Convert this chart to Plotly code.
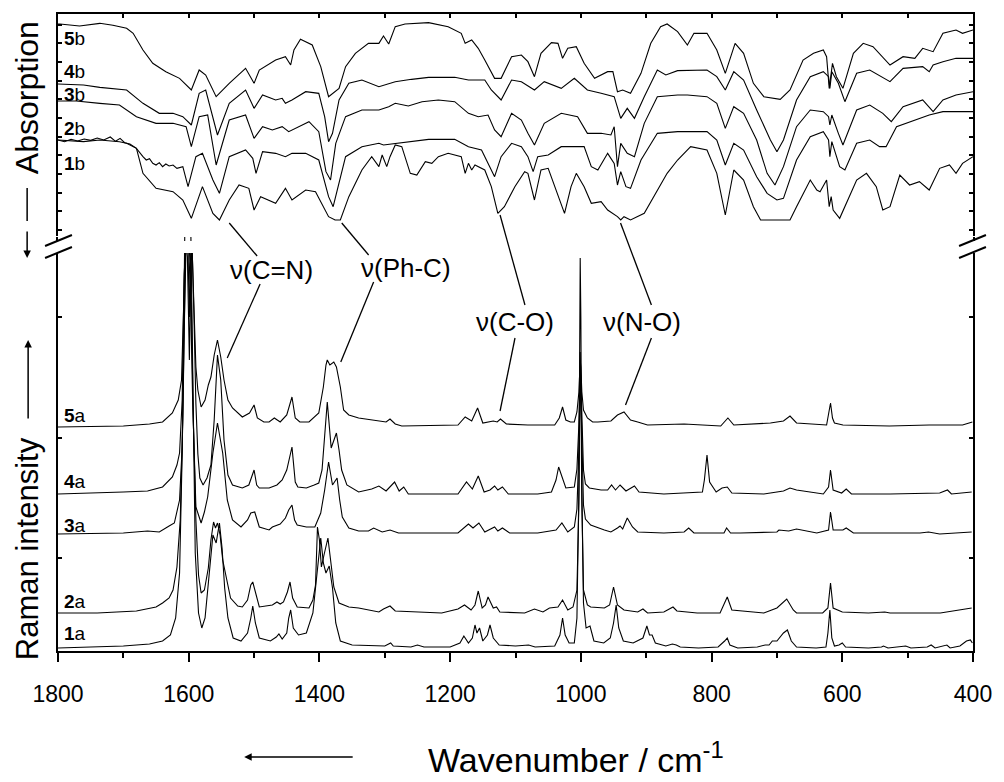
import plotly.graph_objects as go

# ---------------- data ----------------
# Raman spectra: (wavenumber / cm-1, intensity above own baseline, a.u.)
raman_5a = [(1800,0),(1700,1),(1660,3),(1640,5),(1625,14),(1616,27),(1611,47),(1608,120),(1605,184),(1602,170),(1599,67),(1597,150),(1595,184),(1592,120),(1589,60),(1586,37),(1581,20),(1575,27),(1570,42),(1566,50),(1561,72),(1556,87),(1551,70),(1546,47),(1540,27),(1533,19),(1518,10),(1507,14),(1500,22),(1495,9),(1485,5),(1477,5),(1469,9),(1460,5),(1450,12),(1442,30),(1437,9),(1430,5),(1416,5),(1401,14),(1394,40),(1390,62),(1388,67),(1384,62),(1378,65),(1374,60),(1368,40),(1363,17),(1355,12),(1340,9),(1309,6),(1298,5),(1292,8),(1284,3),(1274,1),(1188,2),(1177,10),(1167,6),(1158,19),(1150,4),(1134,6),(1128,5),(1123,8),(1114,3),(1081,2),(1040,2),(1033,9),(1028,20),(1023,7),(1016,5),(1010,5),(1006,15),(1003,35),(1001.5,60),(1001,67),(1000,60),(998.5,35),(996,17),(990,9),(982,5),(974,5),(954,6),(944,12),(934,15),(924,7),(913,5),(898,2),(842,3),(786,1),(775,9),(766,2),(710,4),(690,6),(680,11),(670,4),(624,2),(620,15),(618,24),(615,9),(612,4),(599,2),(528,1),(467,2),(416,2),(401,5)]
raman_4a = [(1800,0),(1739,1),(1700,2),(1663,3),(1640,7),(1625,17),(1618,29),(1614,41),(1610,94),(1607,220),(1604,251),(1601,240),(1599,177),(1597,240),(1595,251),(1592,180),(1589,90),(1586,40),(1583,16),(1578,9),(1572,16),(1566,29),(1561,74),(1556,139),(1551,114),(1546,54),(1540,19),(1533,9),(1518,6),(1508,9),(1503,19),(1500,24),(1496,9),(1492,6),(1477,6),(1465,9),(1457,14),(1450,24),(1442,47),(1437,12),(1433,7),(1420,6),(1408,9),(1401,11),(1396,24),(1392,54),(1388,92),(1382,46),(1374,61),(1370,44),(1366,24),(1358,9),(1340,2),(1320,5),(1309,8),(1298,3),(1285,12),(1278,3),(1271,7),(1264,0),(1188,0),(1175,12),(1166,5),(1157,18),(1148,2),(1139,4),(1132,8),(1127,4),(1120,7),(1111,0),(1066,0),(1045,2),(1038,14),(1034,27),(1029,17),(1023,6),(1010,7),(1006,25),(1003,70),(1001.5,115),(1001,124),(1000,115),(998.5,70),(996,24),(993,10),(987,6),(969,4),(959,4),(953,9),(947,4),(940,9),(931,3),(918,8),(911,2),(873,0),(814,2),(811,14),(807,39),(803,12),(793,2),(784,6),(776,7),(769,1),(720,0),(690,3),(680,6),(670,4),(629,0),(621,7),(618,24),(614,4),(601,1),(594,5),(586,0),(527,0),(451,1),(439,4),(433,0),(402,2)]
raman_3a = [(1800,0),(1700,1),(1663,3),(1645,2),(1630,8),(1622,11),(1614,34),(1610,87),(1607,200),(1604,291),(1600,289),(1597,230),(1594,134),(1591,60),(1589,27),(1581,11),(1576,22),(1571,37),(1567,59),(1563,81),(1556,111),(1548,81),(1541,34),(1533,14),(1520,7),(1510,14),(1505,21),(1499,22),(1492,7),(1477,4),(1472,7),(1460,10),(1452,16),(1447,24),(1442,29),(1438,14),(1434,9),(1420,7),(1407,7),(1398,21),(1392,44),(1386,72),(1380,49),(1373,56),(1369,34),(1365,17),(1355,6),(1340,3),(1325,3),(1317,6),(1304,2),(1292,4),(1279,1),(1188,1),(1172,10),(1165,6),(1156,11),(1147,2),(1132,7),(1127,3),(1120,6),(1109,1),(1066,1),(1038,4),(1029,11),(1020,2),(1010,7),(1006,25),(1003,85),(1001.5,140),(1001,154),(1000,140),(998.5,85),(996,29),(993,15),(985,9),(964,4),(954,2),(944,6),(940,8),(936,5),(929,16),(921,7),(913,2),(873,1),(842,2),(835,6),(827,1),(781,1),(777,6),(771,1),(756,1),(700,2),(697,4),(682,3),(670,5),(639,1),(621,4),(618,22),(614,4),(599,4),(594,6),(583,1),(481,1),(468,2),(451,0),(402,2)]
raman_2a = [(1800,0),(1740,0),(1680,2),(1650,6),(1640,10),(1630,15),(1624,23),(1618,46),(1613,93),(1609,193),(1605,365),(1601,370),(1597,350),(1593,193),(1589,93),(1585,38),(1581,20),(1576,23),(1570,45),(1566,73),(1562,91),(1559,85),(1556,90),(1552,78),(1548,53),(1543,38),(1536,15),(1525,7),(1518,6),(1510,13),(1505,28),(1502,31),(1498,21),(1492,6),(1472,8),(1465,11),(1460,9),(1455,11),(1449,21),(1445,31),(1441,15),(1434,6),(1416,5),(1410,13),(1406,28),(1403,86),(1400,73),(1397,46),(1393,58),(1387,75),(1382,48),(1378,26),(1370,10),(1355,6),(1340,5),(1309,1),(1302,4),(1292,7),(1284,2),(1250,1),(1213,0),(1188,4),(1178,8),(1168,3),(1162,8),(1157,22),(1151,5),(1146,8),(1142,16),(1134,5),(1129,6),(1124,1),(1086,0),(1071,4),(1058,1),(1048,5),(1035,6),(1028,13),(1020,3),(1012,6),(1006,23),(1003,110),(1001.5,230),(1001,261),(1000,230),(998.5,110),(996,23),(990,8),(985,6),(964,5),(956,8),(950,26),(944,8),(934,3),(913,1),(905,4),(898,0),(873,1),(859,6),(853,2),(822,0),(787,0),(776,16),(769,3),(720,0),(700,5),(685,14),(675,3),(670,0),(630,0),(622,5),(618,30),(614,5),(600,1),(560,0),(535,1),(527,0),(450,0),(402,5)]
raman_1a = [(1800,0),(1750,1),(1700,2),(1660,4),(1640,7),(1628,13),(1620,30),(1614,75),(1610,195),(1606,415),(1603,525),(1598,475),(1594,255),(1590,95),(1585,35),(1580,20),(1575,30),(1570,65),(1566,100),(1563,113),(1558,105),(1553,125),(1549,100),(1545,60),(1540,30),(1532,10),(1520,7),(1510,15),(1505,30),(1502,42),(1498,25),(1492,10),(1475,7),(1466,11),(1462,14),(1457,9),(1450,15),(1447,30),(1444,38),(1440,20),(1432,13),(1420,15),(1410,35),(1404,75),(1398,110),(1394,85),(1390,75),(1385,82),(1380,60),(1375,25),(1368,7),(1350,3),(1320,2),(1300,2),(1291,5),(1287,2),(1260,1),(1250,3),(1240,1),(1200,1),(1185,5),(1179,12),(1172,5),(1166,10),(1162,23),(1159,15),(1155,20),(1150,7),(1143,13),(1139,23),(1134,10),(1125,3),(1100,2),(1080,3),(1070,1),(1040,2),(1032,13),(1028,30),(1024,13),(1018,5),(1010,5),(1006,30),(1003,160),(1001.5,330),(1001,390),(1000,330),(998.5,160),(996,45),(992,20),(986,22),(980,7),(965,5),(955,10),(950,25),(946,43),(942,20),(935,7),(920,5),(905,10),(899,22),(895,13),(891,13),(886,5),(870,2),(860,4),(854,3),(848,1),(820,0),(790,1),(780,7),(776,10),(772,3),(760,0),(730,1),(718,3),(712,3),(707,7),(700,7),(690,15),(684,18),(678,7),(670,1),(640,0),(625,1),(622,15),(619,38),(616,10),(612,2),(605,3),(600,5),(595,1),(560,0),(540,1),(537,2),(530,0),(503,2),(495,0),(470,1),(464,3),(458,0),(440,3),(435,0),(420,2),(410,7),(404,8),(401,5)]
raman_offsets = {"5a": 260, "4a": 193, "3a": 153, "2a": 74, "1a": 39}

# Absorption spectra (stacked as drawn; absorption increases downward), a.u.
abs_5b = [(1800,72),(1797,72),(1767,78),(1736,70),(1716,76),(1695,85),(1685,100),(1670,150),(1655,190),(1635,215),(1614,235),(1596,270),(1584,210),(1574,225),(1558,290),(1538,250),(1513,205),(1500,250),(1492,210),(1467,180),(1452,170),(1444,195),(1439,150),(1429,118),(1411,135),(1398,200),(1386,290),(1370,265),(1360,200),(1345,160),(1325,130),(1309,130),(1302,108),(1294,132),(1284,80),(1269,72),(1233,68),(1203,80),(1183,100),(1177,130),(1167,120),(1157,145),(1147,180),(1132,235),(1122,235),(1106,170),(1091,165),(1081,185),(1071,230),(1061,160),(1045,128),(1035,130),(1028,175),(1020,145),(1007,140),(995,190),(979,235),(959,215),(951,215),(944,275),(936,270),(924,280),(908,220),(893,130),(878,80),(868,72),(852,95),(837,135),(827,100),(807,100),(792,150),(779,220),(764,130),(751,160),(736,250),(720,290),(695,298),(680,270),(660,180),(644,160),(629,150),(624,170),(620,265),(615,190),(609,230),(599,265),(583,160),(568,130),(553,140),(527,195),(507,170),(489,175),(477,145),(461,155),(446,100),(426,90),(416,100),(400,90)]
abs_4b = [(1800,252),(1761,255),(1736,262),(1695,270),(1670,310),(1645,340),(1624,340),(1609,350),(1596,375),(1584,280),(1574,270),(1556,405),(1538,310),(1513,270),(1500,325),(1487,285),(1467,300),(1457,295),(1452,310),(1442,300),(1421,275),(1401,280),(1392,350),(1386,425),(1380,400),(1370,300),(1355,250),(1335,240),(1309,260),(1284,245),(1259,238),(1233,232),(1193,232),(1172,240),(1147,240),(1137,270),(1122,300),(1106,240),(1091,245),(1071,270),(1056,245),(1030,265),(1010,235),(990,270),(969,280),(949,290),(939,355),(929,325),(918,355),(903,290),(883,210),(870,225),(852,212),(807,210),(792,230),(779,270),(766,215),(751,240),(731,330),(710,420),(700,455),(690,420),(670,300),(649,230),(629,215),(621,230),(619,265),(616,215),(606,250),(596,305),(578,220),(558,210),(527,245),(507,205),(477,200),(467,215),(461,195),(446,185),(426,175),(400,175)]
abs_3b = [(1800,303),(1772,303),(1736,310),(1706,315),(1680,350),(1650,370),(1624,370),(1604,380),(1596,440),(1584,350),(1571,345),(1558,495),(1538,360),(1513,345),(1500,415),(1487,380),(1472,390),(1457,380),(1447,395),(1431,380),(1416,365),(1401,395),(1390,515),(1383,540),(1375,430),(1360,350),(1335,330),(1309,330),(1294,320),(1284,310),(1264,318),(1243,305),(1218,300),(1193,305),(1172,340),(1157,350),(1142,345),(1132,390),(1122,410),(1106,340),(1091,360),(1081,400),(1071,435),(1056,370),(1030,340),(1005,350),(990,400),(969,400),(954,405),(949,380),(944,500),(939,430),(929,460),(918,470),(903,370),(883,290),(852,285),(837,285),(807,290),(792,310),(779,385),(766,320),(751,340),(731,420),(715,520),(703,555),(690,500),(670,380),(649,330),(629,335),(621,350),(619,375),(616,345),(606,400),(599,435),(578,330),(558,315),(538,340),(525,365),(507,320),(477,300),(461,335),(446,300),(426,285),(400,275)]
abs_2b = [(1800,420),(1761,425),(1736,420),(1706,425),(1695,430),(1680,445),(1670,470),(1665,480),(1660,476),(1655,490),(1650,495),(1645,488),(1640,500),(1635,492),(1630,498),(1624,495),(1618,505),(1609,500),(1601,560),(1589,470),(1579,460),(1563,540),(1553,580),(1538,470),(1513,450),(1502,475),(1497,520),(1487,455),(1467,460),(1452,470),(1442,460),(1421,460),(1401,480),(1386,590),(1379,620),(1368,530),(1360,470),(1335,440),(1309,430),(1302,435),(1284,430),(1259,425),(1233,418),(1193,418),(1172,440),(1152,450),(1142,490),(1132,530),(1122,470),(1106,430),(1091,440),(1081,470),(1073,515),(1066,470),(1050,465),(1030,440),(1010,440),(995,440),(984,500),(974,510),(959,460),(949,490),(944,555),(939,515),(931,560),(924,565),(908,480),(883,400),(852,395),(807,395),(792,420),(779,495),(766,430),(751,450),(731,530),(715,580),(700,600),(690,595),(670,480),(649,410),(629,395),(621,420),(619,470),(616,425),(604,500),(596,510),(578,430),(558,420),(543,440),(533,440),(517,380),(487,360),(467,345),(446,335),(426,335),(400,335)]
abs_1b = [(1800,420),(1790,425),(1780,418),(1770,423),(1760,417),(1750,421),(1740,414),(1730,420),(1720,411),(1712,424),(1705,415),(1698,428),(1690,432),(1680,445),(1670,520),(1650,565),(1624,575),(1609,600),(1596,655),(1579,560),(1563,640),(1553,660),(1538,600),(1523,555),(1508,565),(1500,630),(1490,590),(1467,610),(1452,565),(1442,600),(1421,570),(1406,575),(1386,650),(1376,660),(1368,660),(1355,590),(1335,510),(1320,470),(1309,500),(1304,465),(1297,500),(1292,470),(1284,435),(1274,440),(1261,520),(1251,525),(1238,485),(1228,490),(1218,470),(1203,460),(1183,470),(1177,520),(1172,490),(1167,510),(1162,495),(1147,510),(1137,560),(1127,640),(1117,620),(1101,560),(1086,515),(1081,520),(1071,600),(1061,510),(1050,505),(1035,590),(1025,640),(1015,560),(1007,520),(995,560),(984,610),(969,605),(959,630),(944,650),(939,660),(934,650),(924,660),(903,640),(883,570),(868,520),(852,480),(832,440),(807,450),(792,520),(779,645),(766,510),(751,540),(736,620),(725,660),(680,660),(670,620),(649,540),(639,570),(634,575),(624,540),(620,620),(617,590),(614,630),(604,655),(578,540),(563,520),(548,560),(538,630),(527,620),(512,525),(497,555),(482,545),(467,570),(451,505),(436,495),(426,520),(416,490),(400,470)]

x_ticks = [1800, 1600, 1400, 1200, 1000, 800, 600, 400]
raman_labels = ["5a", "4a", "3a", "2a", "1a"]
abs_labels = ["5b", "4b", "3b", "2b", "1b"]
band_labels = ["ν(C=N)", "ν(Ph-C)", "ν(C-O)", "ν(N-O)"]

# ---------------- figure ----------------
FONT = "Liberation Sans, Arial, sans-serif"
LW = 1.1
fig = go.Figure()

raman = {"5a": raman_5a, "4a": raman_4a, "3a": raman_3a, "2a": raman_2a, "1a": raman_1a}
for name in raman_labels:
    pts = raman[name]
    off = raman_offsets[name]
    fig.add_trace(go.Scatter(x=[p[0] for p in pts], y=[p[1] + off for p in pts],
                             mode="lines", line=dict(color="black", width=LW),
                             xaxis="x", yaxis="y", showlegend=False, name=name))

absd = {"5b": abs_5b, "4b": abs_4b, "3b": abs_3b, "2b": abs_2b, "1b": abs_1b}
for name in abs_labels:
    pts = absd[name]
    fig.add_trace(go.Scatter(x=[p[0] for p in pts], y=[p[1] for p in pts],
                             mode="lines", line=dict(color="black", width=LW),
                             xaxis="x2", yaxis="y2", showlegend=False, name=name))

# geometry helpers (pixel -> paper), plot area: x 58..977, y 14..651
def px(x):
    return (x - 58) / 919.0
def py(y):
    return (651 - y) / 637.0

axis_common = dict(showline=True, linecolor="black", linewidth=2, showgrid=False,
                   zeroline=False)

fig.update_layout(
    width=1004, height=782,
    margin=dict(l=58, r=27, t=14, b=131, pad=0),
    paper_bgcolor="white", plot_bgcolor="white",
    font=dict(family=FONT, color="black"),
    xaxis=dict(range=[1800, 400], anchor="y", domain=[0, 1],
               tickvals=x_ticks, ticktext=[str(v) for v in x_ticks],
               ticks="outside", ticklen=9, tickwidth=2, tickcolor="black",
               minor=dict(dtick=100, tick0=0, ticks="outside", ticklen=5, tickwidth=1.5, tickcolor="black"),
               tickfont=dict(size=23, family=FONT), ticklabelstandoff=12,
               **axis_common),
    xaxis2=dict(range=[1800, 400], anchor="y2", matches="x", side="top",
                dtick=100, tick0=0, ticks="inside", ticklen=4, tickwidth=1.5, tickcolor="black",
                showticklabels=False, **axis_common),
    yaxis=dict(domain=[0, py(237)], range=[36, 450], anchor="x",
               tickvals=[129, 249.5, 370], ticks="inside", ticklen=4, tickwidth=1.5,
               tickcolor="black", showticklabels=False, mirror="ticks", **axis_common),
    yaxis2=dict(domain=[py(236), 1], range=[708, 42], anchor="x2",
                tick0=130, dtick=56, ticks="inside", ticklen=4, tickwidth=1.5,
                tickcolor="black", showticklabels=False, mirror="ticks", **axis_common),
)

shapes = []
# white band of the axis break
shapes.append(dict(type="rect", xref="paper", yref="paper", x0=-0.03, x1=1.03,
                   y0=py(253), y1=py(241), fillcolor="white", line=dict(width=0), layer="above"))
# break marks
for xa, xb in [(45, 72), (963, 990)]:
    for ya, yb in [(246, 235), (258, 247)]:
        shapes.append(dict(type="line", xref="paper", yref="paper", x0=px(xa), y0=py(ya),
                           x1=px(xb), y1=py(yb), line=dict(color="black", width=2), layer="above"))
# leader lines for band labels
leaders = [((230, 223), (258, 256)), ((261, 284), (228, 358)),
           ((343, 223), (370, 255)), ((375, 282), (342, 362)),
           ((502, 215), (527, 305)), ((517, 338), (502, 411)),
           ((623, 223), (654, 305)), ((654, 338), (628, 405))]
for (xa, ya), (xb, yb) in leaders:
    shapes.append(dict(type="line", xref="paper", yref="paper", x0=px(xa), y0=py(ya),
                       x1=px(xb), y1=py(yb), line=dict(color="black", width=1.3), layer="above"))
# dash next to "Absorption"
shapes.append(dict(type="line", xref="paper", yref="paper", x0=px(27), x1=px(27),
                   y0=py(188), y1=py(221), line=dict(color="black", width=1.5)))
fig.update_layout(shapes=shapes)

ann = []
label_y = {"5b": 38.3, "4b": 71.7, "3b": 95, "2b": 128.3, "1b": 163.3,
           "5a": 415, "4a": 481.7, "3a": 525, "2a": 601.7, "1a": 633}
for name in abs_labels + raman_labels:
    ann.append(dict(xref="paper", yref="paper", x=px(62), y=py(label_y[name]),
                    xanchor="left", yanchor="middle", showarrow=False,
                    text="<b>%s</b>%s" % (name[0], name[1]), font=dict(size=19, family=FONT)))
band_pos = [(272, 270), (408, 268), (517, 322), (645, 322)]
for t, (x, y) in zip(band_labels, band_pos):
    ann.append(dict(xref="paper", yref="paper", x=px(x), y=py(y), showarrow=False,
                    xanchor="center", yanchor="middle", text=t, font=dict(size=26, family=FONT)))
# axis titles
ann.append(dict(xref="paper", yref="paper", x=px(27), y=py(98), textangle=-90,
                xanchor="center", yanchor="middle",
                showarrow=False, text="Absorption", font=dict(size=32, family=FONT)))
ann.append(dict(xref="paper", yref="paper", x=px(27), y=py(549), textangle=-90,
                xanchor="center", yanchor="middle",
                showarrow=False, text="Raman intensity", font=dict(size=31, family=FONT)))
ann.append(dict(xref="paper", yref="paper", x=px(578), y=py(757), showarrow=False,
                xanchor="center", yanchor="middle",
                text="Wavenumber / cm<sup>-1</sup>", font=dict(size=34, family=FONT)))
# arrows
ann.append(dict(xref="paper", yref="paper", x=px(27), y=py(258), ax=0, ay=-28,
                showarrow=True, arrowhead=2, arrowsize=1, arrowwidth=1.5, arrowcolor="black", text=""))
ann.append(dict(xref="paper", yref="paper", x=px(28), y=py(340), ax=0, ay=80,
                showarrow=True, arrowhead=2, arrowsize=1, arrowwidth=1.5, arrowcolor="black", text=""))
ann.append(dict(xref="paper", yref="paper", x=px(245), y=py(757), ax=110, ay=0,
                showarrow=True, arrowhead=2, arrowsize=1, arrowwidth=1.5, arrowcolor="black", text=""))
fig.update_layout(annotations=ann)

fig.write_html("out.html")
